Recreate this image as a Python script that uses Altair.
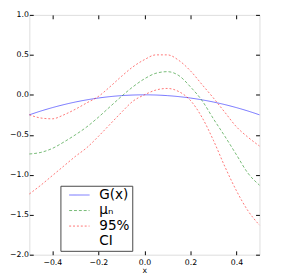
import altair as alt
import pandas as pd

xs = [-0.5, -0.45, -0.4, -0.35, -0.3, -0.25, -0.2, -0.15, -0.1, -0.05, 0.0,
      0.05, 0.1, 0.15, 0.2, 0.25, 0.3, 0.35, 0.4, 0.45, 0.5]
g_vals = [-0.25, -0.2025, -0.16, -0.1225, -0.09, -0.0625, -0.04, -0.0225, -0.01, -0.0025, 0.0,
          -0.0025, -0.01, -0.0225, -0.04, -0.0625, -0.09, -0.1225, -0.16, -0.2025, -0.25]
mu_vals = [-0.74, -0.72, -0.67, -0.59, -0.50, -0.40, -0.28, -0.15, -0.02, 0.10, 0.20,
           0.27, 0.29, 0.24, 0.10, -0.07, -0.30, -0.52, -0.75, -0.98, -1.13]
upper_vals = [-0.25, -0.29, -0.30, -0.25, -0.18, -0.10, -0.02, 0.10, 0.23, 0.35, 0.44,
              0.50, 0.50, 0.43, 0.30, 0.13, -0.04, -0.22, -0.40, -0.53, -0.64]
lower_vals = [-1.24, -1.13, -1.01, -0.89, -0.77, -0.66, -0.52, -0.37, -0.22, -0.08, 0.00,
              0.06, 0.08, 0.04, -0.07, -0.28, -0.57, -0.90, -1.20, -1.45, -1.63]

labels = ["G(x)", "μₙ", "95% CI"]
x_ticks = [-0.4, -0.2, 0.0, 0.2, 0.4]
y_ticks = [-2.0, -1.5, -1.0, -0.5, 0.0, 0.5, 1.0]

rows = []
for name, label, vals in [("g", labels[0], g_vals), ("mu", labels[1], mu_vals),
                          ("up", labels[2], upper_vals), ("lo", labels[2], lower_vals)]:
    for x, y in zip(xs, vals):
        rows.append({"x": x, "y": y, "series": name, "label": label})
df = pd.DataFrame(rows)

xscale = alt.Scale(domain=[-0.5, 0.5], nice=False)
yscale = alt.Scale(domain=[-2.0, 1.0], nice=False)
TK = 4

lines = alt.Chart(df).mark_line(strokeWidth=1, opacity=0.55, interpolate="monotone").encode(
    x=alt.X("x:Q", scale=xscale,
            axis=alt.Axis(title="x", orient="bottom", values=x_ticks, format=".1f",
                          grid=False, ticks=True, tickSize=TK, offset=-TK, tickColor="black",
                          labelPadding=4, titlePadding=0,
                          labelFontSize=8, titleFontSize=8, titleFontWeight="normal",
                          domain=False, labelColor="black", titleColor="black")),
    y=alt.Y("y:Q", scale=yscale,
            axis=alt.Axis(title=None, orient="left", values=y_ticks, format=".1f",
                          grid=False, ticks=True, tickSize=TK, offset=-TK, tickColor="black",
                          labelPadding=1, labelFontSize=8,
                          domain=False, labelColor="black")),
    color=alt.Color("label:N", scale=alt.Scale(domain=labels, range=["#0000ff", "#008000", "#ff0000"]),
                    legend=alt.Legend(title=None, orient="none", legendX=32, legendY=176,
                                      symbolType="M-1.5,0H1.5", symbolSize=196, symbolStrokeWidth=1,
                                      symbolOffset=10,
                                      labelFontSize=14, labelOffset=13, rowPadding=1,
                                      padding=2, strokeColor="#444444", fillColor="white",
                                      labelColor="black",
                                      labelExpr="datum.label == '95% CI' ? ['95%', ' CI'] : datum.label")),
    strokeDash=alt.StrokeDash("label:N", scale=alt.Scale(domain=labels, range=[[1, 0], [3, 2], [2, 2]]),
                              legend=None),
    detail="series:N",
)

frame_ticks = alt.Chart(df).mark_point(opacity=0).encode(
    x=alt.X("x:Q", scale=xscale,
            axis=alt.Axis(title=None, orient="top", values=x_ticks, labels=False, grid=False,
                          ticks=True, tickSize=TK, offset=-TK, tickColor="black", domain=False)),
    y=alt.Y("y:Q", scale=yscale,
            axis=alt.Axis(title=None, orient="right", values=y_ticks, labels=False, grid=False,
                          ticks=True, tickSize=TK, offset=-TK, tickColor="black", domain=False)),
)

chart = alt.layer(lines, frame_ticks).resolve_axis(x="independent", y="independent").properties(
    width=237, height=247,
    autosize=alt.AutoSizeParams(type="none"),
    padding={"left": 22, "top": 3, "right": 16, "bottom": 24},
).configure_view(stroke="#444444", strokeWidth=1).configure(font="DejaVu Sans")

chart.save("out.html", embed_options={"renderer": "svg", "actions": False})
